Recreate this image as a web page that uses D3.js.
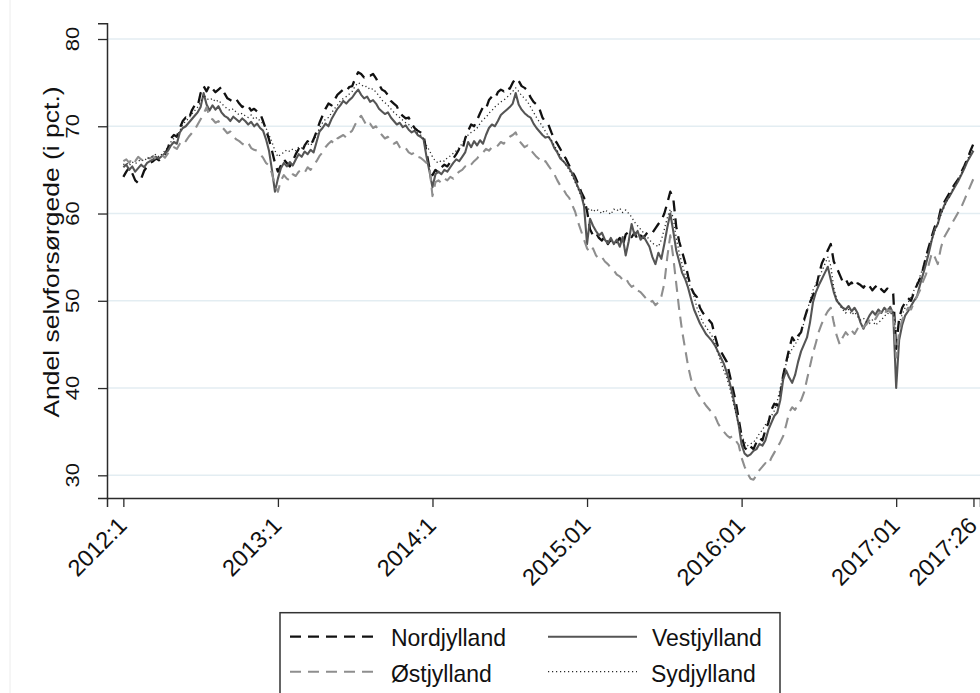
<!DOCTYPE html>
<html><head><meta charset="utf-8">
<script src="https://cdn.jsdelivr.net/npm/d3@7"></script>
<style>body{margin:0;background:#fff}svg{display:block;font-family:"Liberation Sans",Arial,Helvetica,sans-serif}</style>
</head><body><svg id="c" width="980" height="693"></svg>
<script>
// ---- data ----
const tickLabels = ["2012:1","2013:1","2014:1","2015:01","2016:01","2017:01","2017:26"];
const tickWeeks  = [0,52,104,156,208,260,286];
const yTicks = [30,40,50,60,70,80];
const seriesNames = ["Nordjylland","Vestjylland","Østjylland","Sydjylland"];

const nordjylland = [
64.2,64.8,65.3,64.6,63.8,63.5,64.0,64.9,65.4,65.8,66.0,66.3,66.1,
66.5,66.8,67.5,68.6,69.0,68.8,69.8,70.6,71.0,70.8,71.8,72.4,72.3,
73.8,74.6,74.0,74.7,74.3,73.9,74.2,74.5,73.8,73.2,73.0,72.8,73.1,
72.6,72.2,72.5,72.3,71.8,72.0,71.7,71.5,70.6,69.6,68.5,67.2,65.8,
64.8,65.5,66.2,65.8,65.4,66.0,66.8,67.4,67.0,67.8,68.3,67.8,68.5,
69.4,70.4,71.2,72.0,72.6,72.4,73.0,73.6,73.9,74.2,74.0,74.5,74.6,
75.5,76.2,76.0,75.6,75.9,75.8,76.0,75.5,74.8,74.2,74.0,73.6,72.9,
72.6,72.3,71.5,71.2,70.9,71.0,70.3,69.8,69.5,69.3,69.0,67.0,65.2,
64.4,65.0,64.7,65.3,65.6,65.4,65.9,66.3,66.8,67.4,67.2,68.6,69.5,
70.2,70.0,70.7,71.5,72.2,72.0,73.0,73.4,73.2,73.9,74.2,74.0,
74.5,74.3,75.0,75.5,75.2,74.6,74.4,74.1,73.3,72.8,72.5,72.0,71.0,
70.5,70.2,69.3,68.5,68.0,67.4,66.8,66.2,65.5,64.8,64.2,63.4,62.5,61.8,
60.3,58.2,57.5,57.8,57.2,56.9,57.4,56.5,57.0,56.4,56.8,57.2,56.3,
57.6,57.9,57.3,57.8,57.0,57.5,57.2,57.7,58.0,57.8,58.3,58.8,59.2,
60.0,61.2,62.5,61.8,58.5,56.8,55.6,54.4,52.8,51.5,50.8,50.4,49.2,
48.6,48.2,47.8,47.4,46.0,44.8,44.2,43.6,43.0,41.5,40.0,38.5,36.5,
34.5,33.2,32.8,33.3,33.0,33.8,34.3,34.0,35.2,36.0,37.5,38.2,38.0,
39.2,41.5,43.0,44.5,45.8,45.3,46.0,46.4,47.8,48.9,49.8,50.6,51.4,
53.0,54.3,55.0,55.8,56.5,54.5,53.8,53.0,52.2,52.5,51.8,52.1,51.6,
52.0,51.8,51.5,52.0,51.7,51.2,51.6,51.9,51.3,51.0,51.4,51.2,50.8,
44.5,48.0,49.2,49.8,50.3,50.0,51.0,51.8,52.5,53.6,55.0,56.2,57.4,
58.5,59.0,60.5,61.2,61.8,62.4,63.0,63.5,64.0,64.8,65.5,66.3,67.2,68.0];

const vestjylland = [
65.3,65.6,65.0,65.4,64.8,65.2,65.6,65.3,65.8,66.0,66.2,66.5,66.3,
66.6,66.9,67.2,67.8,68.2,68.0,69.3,69.8,70.0,70.4,70.8,71.2,71.6,
72.2,73.8,72.5,71.8,72.4,71.9,72.3,71.6,71.2,71.0,70.6,71.1,70.8,
70.5,70.9,70.6,70.2,70.5,70.0,70.3,69.8,69.5,68.5,67.2,65.0,62.5,
64.0,65.2,65.8,65.4,65.9,65.5,66.2,66.8,66.5,67.1,66.8,67.3,67.0,
68.2,69.4,69.8,70.3,70.0,70.8,71.4,72.0,72.4,72.9,72.6,73.0,73.3,
73.8,74.2,73.6,73.2,73.4,72.8,73.0,72.6,72.0,71.7,71.4,71.6,71.0,
70.6,70.2,70.4,69.9,70.1,69.6,69.3,69.5,69.0,68.8,68.5,66.5,64.8,
63.0,64.5,64.8,64.5,65.0,64.8,65.3,65.8,66.2,66.0,66.5,67.0,68.2,
67.6,68.3,67.8,68.4,68.0,69.0,69.8,70.2,70.0,70.6,71.3,71.6,
71.9,72.2,72.6,73.8,72.5,71.9,71.5,71.2,71.0,70.3,69.8,69.4,69.0,
68.7,68.8,68.3,67.5,67.0,66.3,66.0,65.6,65.2,64.6,63.8,63.0,62.2,60.8,
56.5,59.4,58.6,58.0,57.5,57.8,57.0,56.6,57.2,56.5,57.0,56.2,57.3,
55.2,56.8,58.8,57.5,58.0,57.0,57.4,56.8,56.2,55.0,54.2,55.5,54.8,
56.5,58.4,60.0,58.0,55.8,54.5,53.2,52.5,51.5,50.2,49.0,48.2,47.4,
46.8,46.2,45.8,45.4,44.9,44.2,43.5,42.8,41.8,40.6,39.2,37.5,35.8,
33.5,32.5,32.2,32.4,32.8,33.0,33.6,33.4,34.0,35.2,36.0,36.8,37.2,
38.6,41.0,42.0,41.2,40.6,41.5,43.0,44.2,45.0,45.8,47.5,49.8,51.0,
51.8,52.5,53.2,53.9,52.4,51.0,50.0,49.6,49.2,49.0,49.4,48.8,49.2,
48.6,47.5,46.8,47.6,48.3,48.8,48.4,49.0,48.6,49.2,48.8,49.3,48.5,
40.0,45.5,47.2,48.3,48.8,49.4,50.0,50.5,51.8,53.0,54.2,55.5,57.0,
58.2,58.8,60.0,60.8,61.5,62.0,62.6,63.2,63.8,64.5,65.2,66.0,66.6,67.2];

const oestjylland = [
66.0,66.2,65.8,66.4,66.0,66.5,66.2,66.0,66.4,66.3,66.6,66.2,66.5,
66.7,66.4,66.9,67.3,67.6,67.4,68.0,68.5,68.3,68.8,69.2,69.6,70.2,
70.8,71.4,72.2,71.0,70.8,70.4,70.6,70.0,69.6,69.2,69.4,68.8,68.5,
68.3,68.0,67.8,68.1,67.5,67.3,67.2,66.8,66.4,65.8,65.5,64.6,63.2,
62.5,63.8,64.4,64.0,63.8,64.5,64.3,64.8,65.0,64.7,65.3,65.0,65.5,
66.0,66.6,67.0,67.6,68.0,68.3,68.0,68.6,68.8,69.0,68.7,69.2,69.5,
70.2,70.8,71.2,70.6,70.0,70.3,69.8,70.0,69.4,69.0,68.6,68.8,68.3,
68.0,68.2,67.6,67.3,67.5,67.0,66.8,67.0,66.5,66.4,66.1,65.8,65.3,
62.0,63.6,63.8,63.5,64.0,63.8,64.2,64.0,64.5,64.8,65.0,65.4,65.2,
65.6,66.0,66.3,66.8,67.0,67.4,67.2,67.6,67.5,67.8,68.2,68.0,
68.5,68.8,69.0,69.3,68.4,68.0,67.6,67.8,67.3,66.9,66.5,66.2,65.8,
66.0,65.5,65.0,64.5,63.8,63.2,62.8,62.2,61.8,61.0,60.2,59.0,58.0,57.0,
56.0,55.5,56.0,55.2,54.8,55.0,54.5,54.2,53.8,53.5,53.0,52.8,52.4,
52.6,52.0,51.6,51.8,51.2,51.0,50.6,50.2,49.8,50.0,49.5,49.8,50.5,
52.0,55.0,57.5,55.0,52.0,49.0,46.5,44.5,42.5,41.0,40.2,39.5,39.0,
38.5,38.0,37.6,37.2,36.8,36.0,35.4,35.0,34.6,34.3,34.5,34.0,33.5,
32.0,31.0,30.2,29.6,29.5,30.0,30.6,31.0,31.4,31.2,32.0,32.6,33.2,
33.8,34.5,35.8,37.2,37.8,37.5,38.2,38.6,39.5,41.0,42.5,44.0,45.2,
46.5,47.4,48.2,48.8,49.2,47.5,46.0,45.0,45.8,46.4,46.0,46.6,46.2,
46.8,46.5,47.0,47.3,47.8,48.2,47.9,48.5,48.8,48.4,49.0,48.7,49.0,
43.5,46.5,47.8,48.5,49.2,49.0,49.8,50.5,51.2,52.2,53.0,54.2,55.5,
55.0,54.2,56.0,57.2,57.8,58.4,59.0,59.6,60.2,60.8,61.6,62.4,63.2,64.0];

const sydjylland = [
65.6,65.8,65.5,65.9,65.7,66.0,66.2,66.0,66.4,66.3,66.6,66.8,66.5,
66.8,67.2,67.6,68.2,68.6,68.9,69.5,70.2,70.6,70.9,71.4,71.8,72.2,
72.8,73.6,73.2,73.0,73.2,72.8,73.0,72.6,72.3,72.0,71.8,72.0,71.6,
71.3,71.5,71.2,71.0,71.3,70.8,71.0,70.6,70.3,69.8,69.0,68.2,67.2,
66.5,66.8,67.0,67.3,67.1,67.4,67.2,67.6,67.5,67.8,68.0,67.8,68.3,
69.0,69.8,70.4,70.8,71.0,71.5,72.0,72.4,72.9,73.2,73.4,73.7,74.0,
74.6,75.0,74.8,74.5,74.6,74.2,74.3,73.9,73.5,73.0,72.7,72.4,72.0,
71.6,71.3,71.0,70.7,70.4,70.2,69.8,69.6,69.2,69.0,68.6,67.8,67.2,
66.5,66.0,65.8,66.1,66.0,66.4,66.6,66.9,67.2,67.6,68.0,68.6,69.0,
69.3,69.5,69.8,70.3,70.8,71.0,71.5,71.8,72.2,72.5,72.8,73.0,
73.3,73.6,74.0,74.4,74.0,73.5,73.2,72.8,72.2,71.6,71.0,70.5,70.0,
69.4,68.9,68.4,67.8,67.2,66.6,66.0,65.5,65.0,64.3,63.6,62.8,62.0,61.2,
60.4,60.6,60.2,60.5,60.3,60.0,60.4,60.2,59.9,60.5,60.3,60.6,60.1,
60.4,60.0,59.6,59.0,58.6,58.2,57.8,57.4,57.0,56.6,56.4,56.2,57.0,
58.2,59.5,60.5,59.5,57.2,55.5,54.2,53.0,52.2,51.4,50.5,49.2,48.3,
47.5,47.0,46.5,46.0,45.2,44.0,43.0,42.0,41.2,40.0,38.6,37.2,35.8,
34.6,33.8,33.4,33.6,33.8,34.2,34.8,35.2,35.8,36.2,36.8,37.4,38.5,
40.0,41.6,42.8,43.8,44.5,45.0,45.6,46.4,47.5,48.8,50.0,51.2,52.0,
52.6,53.4,54.2,55.0,54.0,51.5,50.2,49.5,49.0,48.6,49.0,48.4,48.7,
48.2,47.8,48.0,47.6,47.4,47.8,47.2,47.5,47.8,48.2,48.6,48.4,48.8,
46.5,47.5,48.4,49.2,49.8,50.4,51.2,52.0,52.8,53.8,55.0,56.2,57.0,
58.0,58.8,59.8,60.6,61.4,62.0,62.8,63.4,64.0,64.6,65.4,66.2,66.9,67.5];

// ---- chart ----
const svg = d3.select("#c");
const x = d3.scaleLinear().domain([-5.5, 288.2]).range([107, 980]);
const y = d3.scaleLinear().domain([27.4, 81.8]).range([498, 23.3]);

// faint outer border line
svg.append("line").attr("x1",10).attr("x2",10).attr("y1",0).attr("y2",693)
  .attr("stroke","#ececec").attr("stroke-width",1);

// gridlines
svg.append("g").selectAll("line").data(yTicks).join("line")
  .attr("x1",107).attr("x2",980).attr("y1",d=>y(d)).attr("y2",d=>y(d))
  .attr("stroke","#e3edf2").attr("stroke-width",1.6);

// y axis
const yAxis = svg.append("g").attr("transform","translate(107,0)")
  .call(d3.axisLeft(y).tickValues(yTicks).tickSize(9).tickFormat(""));
yAxis.select(".domain").attr("stroke","#2b2b2b").attr("stroke-width",1.5);
yAxis.selectAll(".tick line").attr("stroke","#2b2b2b").attr("stroke-width",1.3);
svg.append("g").selectAll("text").data(yTicks).join("text")
  .attr("transform",d=>`translate(79,${y(d)}) rotate(-90) scale(1,0.85)`)
  .attr("text-anchor","middle").attr("font-size",22).attr("fill","#111")
  .text(d=>d);

// y title
svg.append("text")
  .attr("transform","translate(59,252) rotate(-90) scale(1,0.85)")
  .attr("text-anchor","middle").attr("font-size",26.5).attr("fill","#111")
  .text("Andel selvforsørgede (i pct.)");

// x axis
const xAxis = svg.append("g").attr("transform","translate(0,498)")
  .call(d3.axisBottom(x).tickValues(tickWeeks).tickSize(9).tickFormat(""));
xAxis.select(".domain").attr("stroke","#2b2b2b").attr("stroke-width",1.5);
xAxis.selectAll(".tick line").attr("stroke","#2b2b2b").attr("stroke-width",1.3);
svg.append("g").selectAll("text").data(tickWeeks).join("text")
  .attr("transform",d=>`translate(${x(d)+5},527) rotate(-45)`)
  .attr("text-anchor","end").attr("font-size",23.5).attr("fill","#111")
  .text((d,i)=>tickLabels[i]);

// lines
const styles = [
  {data:nordjylland, color:"#111111", w:2.3, dash:"11,7"},
  {data:vestjylland, color:"#555555", w:2.1, dash:null},
  {data:oestjylland, color:"#8e8e8e", w:2.1, dash:"11,7"},
  {data:sydjylland,  color:"#2a2a2a", w:1.3, dash:"1.2,2.8"}
];
const line = d3.line().x((d,i)=>x(i)).y(d=>y(d));
svg.append("g").selectAll("path").data(styles).join("path")
  .attr("d",s=>line(s.data)).attr("fill","none")
  .attr("stroke",s=>s.color).attr("stroke-width",s=>s.w)
  .attr("stroke-dasharray",s=>s.dash).attr("stroke-linejoin","round");

// legend
const lg = svg.append("g");
lg.append("rect").attr("x",280).attr("y",612.7).attr("width",500).attr("height",100)
  .attr("fill","#fff").attr("stroke","#333").attr("stroke-width",1.5);
const legPos = [
  {x1:290,x2:378,tx:391,ly:636.7,ty:646},
  {x1:548,x2:637,tx:652,ly:636.7,ty:646},
  {x1:290,x2:378,tx:391,ly:671.7,ty:682},
  {x1:548,x2:637,tx:651,ly:671.7,ty:682}
];
const legOrder = [0,1,2,3];
legOrder.forEach((si,k)=>{
  const s = styles[si], p = legPos[k];
  lg.append("line").attr("x1",p.x1).attr("x2",p.x2).attr("y1",p.ly).attr("y2",p.ly)
    .attr("stroke",s.color).attr("stroke-width",s.w).attr("stroke-dasharray",s.dash);
  lg.append("text").attr("transform",`translate(${p.tx},${p.ty}) scale(1,1.07)`)
    .attr("font-size",23).attr("fill","#111")
    .text(seriesNames[si]);
});
</script></body></html>
